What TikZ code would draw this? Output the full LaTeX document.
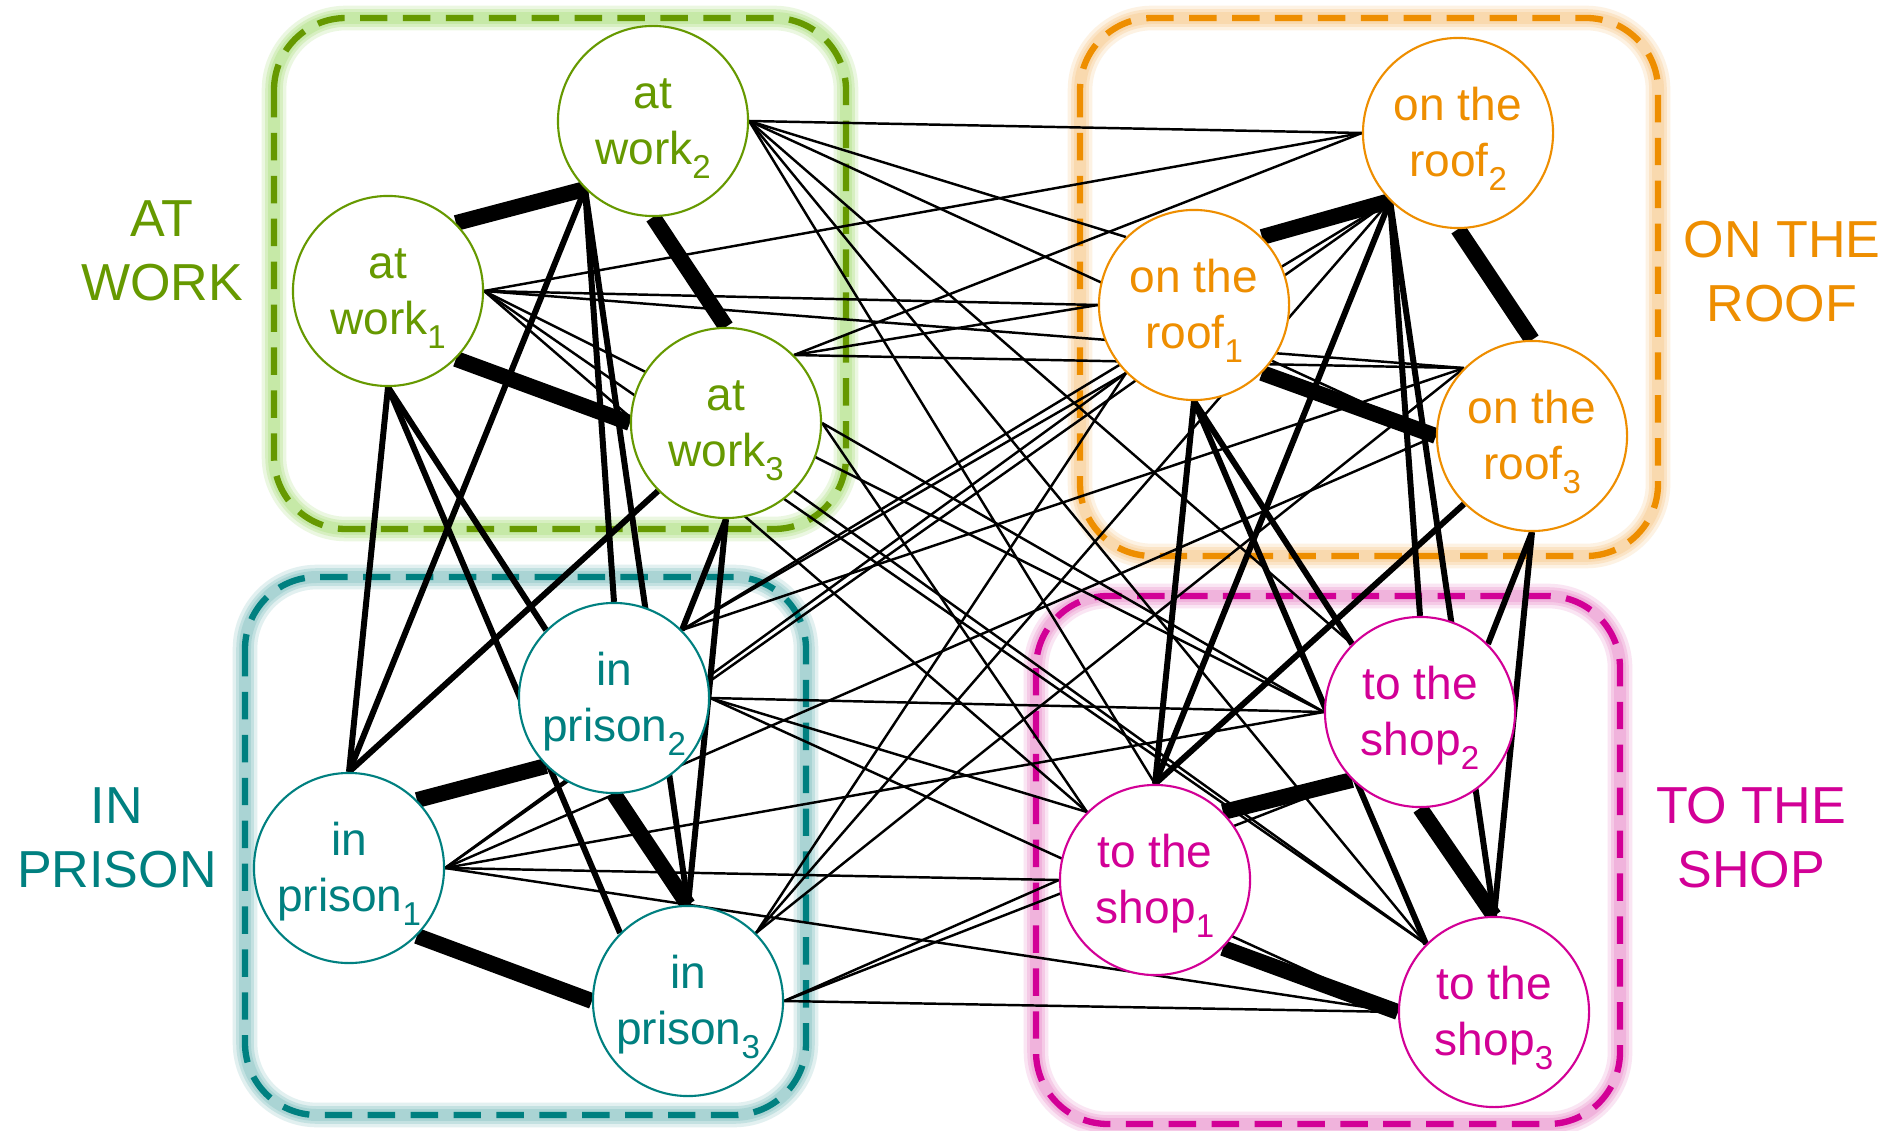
\documentclass[tikz,border=0pt]{standalone}
\usepackage{fontspec}
\setmainfont{Liberation Sans}
\pgfdeclarelayer{groups}
\pgfdeclarelayer{edges}
\pgfsetlayers{groups,edges,main}

\definecolor{cgreen}{RGB}{102,153,0}
\definecolor{corange}{RGB}{238,142,0}
\definecolor{cteal}{RGB}{0,128,128}
\definecolor{cmag}{RGB}{210,0,150}
\definecolor{ggreen}{RGB}{178,226,136}
\definecolor{gorange}{RGB}{248,204,146}
\definecolor{gteal}{RGB}{140,198,198}
\definecolor{gmag}{RGB}{236,152,208}

% lowered subscript index
\newcommand{\idx}[1]{\raisebox{-4pt}{\fontsize{9.4}{9.4}\selectfont #1}}
\newcommand{\topstrut}{\rule{0pt}{13pt}}

\tikzset{
  state/.style={circle, draw=#1, text=#1, fill=white, line width=0.6pt,
    minimum size=1.9cm, inner sep=0pt, align=center,
    font=\fontsize{13.1}{15.9}\selectfont},
  grouplabel/.style={text=#1, align=center, inner sep=0pt,
    font=\fontsize{14.8}{18.2}\selectfont},
  wthick/.style={line width=4.5pt},
  wmed/.style={line width=1.7pt},
  wthin/.style={line width=0.7pt},
  groupbox/.style 2 args={rounded corners=0.72cm, line width=1.8pt,
    draw=#1, dash pattern=on 7.8pt off 4.4pt,
    preaction={draw=#2, line width=7pt, opacity=0.25, solid},
    preaction={draw=#2, line width=5pt, opacity=0.35, solid},
    preaction={draw=#2, line width=3.4pt, opacity=0.45, solid}},
}

\begin{document}
\begin{tikzpicture}[x=0.01cm, y=-0.01cm]
  \path[use as bounding box] (0,0) rectangle (1895,1131);

  % ---- group frames ----
  \begin{pgfonlayer}{groups}
    \fill[white] (0,0) rectangle (1895,1131);
    \draw[groupbox={cgreen}{ggreen}]   (274,18)   rectangle (846,529);
    \draw[groupbox={corange}{gorange}] (1080,18)  rectangle (1658,556);
    \draw[groupbox={cteal}{gteal}]     (245,577)  rectangle (806,1115);
    \draw[groupbox={cmag}{gmag}]       (1036,596) rectangle (1620,1124);
  \end{pgfonlayer}

  % ---- group labels ----
  \node[grouplabel=cgreen]  (LW) at (162,251)  {AT\\WORK};
  \node[grouplabel=corange] (LR) at (1782,272) {ON THE\\ROOF};
  \node[grouplabel=cteal]   (LP) at (117,838)  {IN\\PRISON};
  \node[grouplabel=cmag]    (LS) at (1751,838) {TO THE\\SHOP};

  % ---- states ----
  \node[state=cgreen] (W1) at (388,291) {\topstrut at\\work\idx{1}};
  \node[state=cgreen] (W2) at (653,121) {\topstrut at\\work\idx{2}};
  \node[state=cgreen] (W3) at (726,423) {\topstrut at\\work\idx{3}};

  \node[state=corange] (R1) at (1194,305) {\topstrut on the\\roof\idx{1}};
  \node[state=corange] (R2) at (1458,133) {\topstrut on the\\roof\idx{2}};
  \node[state=corange] (R3) at (1532,436) {\topstrut on the\\roof\idx{3}};

  \node[state=cteal] (P1) at (349,868)  {\topstrut in\\prison\idx{1}};
  \node[state=cteal] (P2) at (614,698)  {\topstrut in\\prison\idx{2}};
  \node[state=cteal] (P3) at (688,1001) {\topstrut in\\prison\idx{3}};

  \node[state=cmag] (S1) at (1155,880)  {\topstrut to the\\shop\idx{1}};
  \node[state=cmag] (S2) at (1420,712)  {\topstrut to the\\shop\idx{2}};
  \node[state=cmag] (S3) at (1494,1012) {\topstrut to the\\shop\idx{3}};

  \begin{pgfonlayer}{edges}
    % strong links inside each group
    \draw[wthick] (W1.north east) -- (W2.south west);
    \draw[wthick] (W2.south) -- (W3.north);
    \draw[wthick] (W1.south east) -- (W3.west);
    \draw[wthick] (R1.north east) -- (R2.south west);
    \draw[wthick] (R2.south) -- (R3.north);
    \draw[wthick] (R1.south east) -- (R3.west);
    \draw[wthick] (P1.north east) -- (P2.south west);
    \draw[wthick] (P2.south) -- (P3.north);
    \draw[wthick] (P1.south east) -- (P3.west);
    \draw[wthick] (S1.north east) -- (S2.south west);
    \draw[wthick] (S2.south) -- (S3.north);
    \draw[wthick] (S1.south east) -- (S3.west);

    % work <-> prison
    \draw[wmed] (W1.south) -- (P1.north);
    \draw[wmed] (W1.south) -- (P2.north west);
    \draw[wmed] (W1.south) -- (P3.north west);
    \draw[wmed] (W2.south west) -- (P1.north);
    \draw[wmed] (W2.south west) -- (P2.north);
    \draw[wmed] (W2.south west) -- (P3.north);
    \draw[wmed] (W3.south west) -- (P1.north);
    \draw[wmed] (W3.south) -- (P2.north east);
    \draw[wmed] (W3.south) -- (P3.north);

    % roof <-> shop
    \draw[wmed] (R1.south) -- (S1.north);
    \draw[wmed] (R1.south) -- (S2.north west);
    \draw[wmed] (R1.south) -- (S3.north west);
    \draw[wmed] (R2.south west) -- (S1.north);
    \draw[wmed] (R2.south west) -- (S2.north);
    \draw[wmed] (R2.south west) -- (S3.north);
    \draw[wmed] (R3.south west) -- (S1.north);
    \draw[wmed] (R3.south) -- (S2.north east);
    \draw[wmed] (R3.south) -- (S3.north);

    % work <-> roof
    \draw[wthin] (W1.east) -- (R1.west);
    \draw[wthin] (W1.east) -- (R2.west);
    \draw[wthin] (W1.east) -- (R3.north west);
    \draw[wthin] (W2.east) -- (R1.north west);
    \draw[wthin] (W2.east) -- (R2.west);
    \draw[wthin] (W2.east) -- (R3.west);
    \draw[wthin] (W3.north east) -- (R1.west);
    \draw[wthin] (W3.north east) -- (R2.west);
    \draw[wthin] (W3.north east) -- (R3.north west);

    % work <-> shop
    \draw[wthin] (W1.east) -- (S1.north west);
    \draw[wthin] (W1.east) -- (S2.west);
    \draw[wthin] (W1.east) -- (S3.north west);
    \draw[wthin] (W2.east) -- (S1.north);
    \draw[wthin] (W2.east) -- (S2.north west);
    \draw[wthin] (W2.east) -- (S3.north west);
    \draw[wthin] (W3.east) -- (S1.north west);
    \draw[wthin] (W3.east) -- (S2.west);
    \draw[wthin] (W3.south east) -- (S3.north west);

    % prison <-> roof
    \draw[wthin] (P1.east) -- (R1.south west);
    \draw[wthin] (P1.east) -- (R2.south west);
    \draw[wthin] (P1.east) -- (R3.west);
    \draw[wthin] (P2.north east) -- (R1.south west);
    \draw[wthin] (P2.north east) -- (R2.south west);
    \draw[wthin] (P2.north east) -- (R3.north west);
    \draw[wthin] (P3.north east) -- (R1.south west);
    \draw[wthin] (P3.north east) -- (R2.south west);
    \draw[wthin] (P3.north east) -- (R3.north west);

    % prison <-> shop
    \draw[wthin] (P1.east) -- (S1.west);
    \draw[wthin] (P1.east) -- (S2.west);
    \draw[wthin] (P1.east) -- (S3.west);
    \draw[wthin] (P2.east) -- (S1.north west);
    \draw[wthin] (P2.east) -- (S2.west);
    \draw[wthin] (P2.east) -- (S3.west);
    \draw[wthin] (P3.east) -- (S1.west);
    \draw[wthin] (P3.east) -- (S2.south west);
    \draw[wthin] (P3.east) -- (S3.west);
  \end{pgfonlayer}
\end{tikzpicture}
\end{document}
